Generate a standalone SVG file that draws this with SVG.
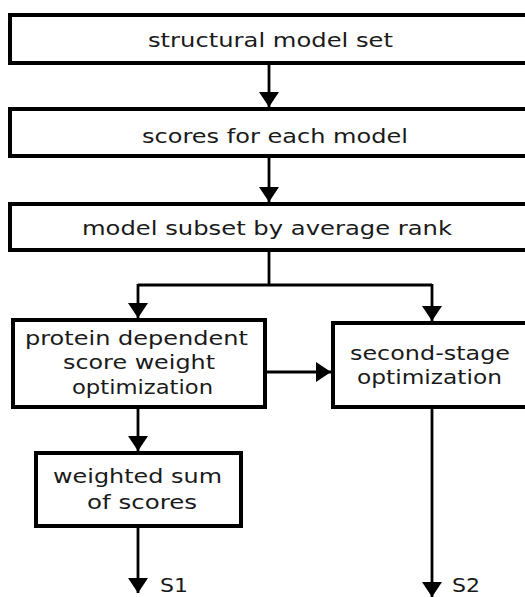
<svg xmlns="http://www.w3.org/2000/svg" width="525" height="597" viewBox="0 0 525 597">
  <style>
    .box { fill: #ffffff; stroke: #000000; stroke-width: 4; }
    .lbl { font-family: "DejaVu Sans", Verdana, sans-serif; font-size: 20px; fill: #1a1a1a; }
    .wire { fill: none; stroke: #000000; stroke-width: 2.8; }
  </style>
  <defs>
    <marker id="head" markerUnits="userSpaceOnUse" markerWidth="16" markerHeight="22" refX="15" refY="10" orient="auto">
      <path d="M0,0 L15,10 L0,20 Z" fill="#000000"/>
    </marker>
  </defs>

  <rect width="525" height="597" fill="#ffffff"/>

  <!-- processing stages -->
  <g id="model-set">
    <rect class="box" x="10" y="15" width="530" height="48"/>
    <text class="lbl" x="148" y="47" textLength="245" lengthAdjust="spacingAndGlyphs">structural model set</text>
  </g>
  <g id="scores">
    <rect class="box" x="10" y="109" width="530" height="47"/>
    <text class="lbl" x="142" y="143" textLength="266" lengthAdjust="spacingAndGlyphs">scores for each model</text>
  </g>
  <g id="subset">
    <rect class="box" x="10" y="204" width="530" height="46"/>
    <text class="lbl" x="82" y="235" textLength="370" lengthAdjust="spacingAndGlyphs">model subset by average rank</text>
  </g>
  <g id="weight-optimization">
    <rect class="box" x="13" y="320" width="252" height="87"/>
    <text class="lbl" x="25" y="345" textLength="223" lengthAdjust="spacingAndGlyphs">protein dependent</text>
    <text class="lbl" x="63" y="369" textLength="152" lengthAdjust="spacingAndGlyphs">score weight</text>
    <text class="lbl" x="72" y="394" textLength="141" lengthAdjust="spacingAndGlyphs">optimization</text>
  </g>
  <g id="second-stage">
    <rect class="box" x="333" y="323" width="210" height="84"/>
    <text class="lbl" x="350" y="360" textLength="160" lengthAdjust="spacingAndGlyphs">second-stage</text>
    <text class="lbl" x="357" y="384" textLength="145" lengthAdjust="spacingAndGlyphs">optimization</text>
  </g>
  <g id="weighted-sum">
    <rect class="box" x="36" y="453" width="205" height="73"/>
    <text class="lbl" x="53" y="483" textLength="169" lengthAdjust="spacingAndGlyphs">weighted sum</text>
    <text class="lbl" x="87" y="509" textLength="110" lengthAdjust="spacingAndGlyphs">of scores</text>
  </g>

  <!-- outputs -->
  <g id="out-s1">
    <text class="lbl" x="160" y="592" textLength="28" lengthAdjust="spacingAndGlyphs">S1</text>
  </g>
  <g id="out-s2">
    <text class="lbl" x="452" y="592" textLength="28" lengthAdjust="spacingAndGlyphs">S2</text>
  </g>

  <!-- connectors -->
  <g id="connectors">
    <path class="wire" d="M269,63 V107" marker-end="url(#head)"/>
    <path class="wire" d="M269,156 V202" marker-end="url(#head)"/>
    <path class="wire" d="M269,250 V285"/>
    <path class="wire" d="M138,285 H432"/>
    <path class="wire" d="M138,284 V318" marker-end="url(#head)"/>
    <path class="wire" d="M432,284 V321" marker-end="url(#head)"/>
    <path class="wire" d="M265,372 H331" marker-end="url(#head)"/>
    <path class="wire" d="M138,407 V451" marker-end="url(#head)"/>
    <path class="wire" d="M138,526 V593" marker-end="url(#head)"/>
    <path class="wire" d="M432,407 V597" marker-end="url(#head)"/>
  </g>
</svg>
